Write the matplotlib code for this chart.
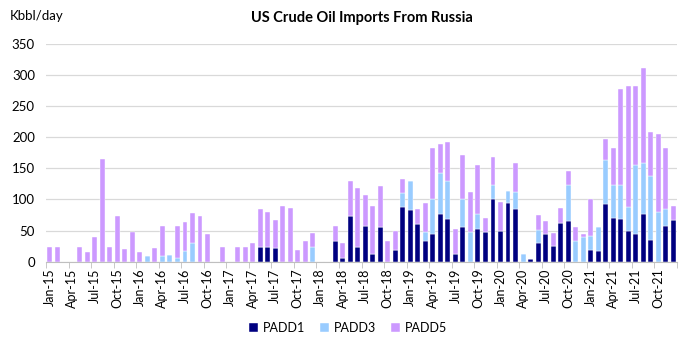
import numpy as np
import pandas as pd
import matplotlib
matplotlib.use("Agg")
import matplotlib.pyplot as plt

plt.rcParams['font.family'] = ['Lato', 'DejaVu Sans']

# monthly data, Jan-15 .. Dec-21 (Kbbl/day)
months = pd.date_range("2015-01-01", "2021-12-01", freq="MS")
month_labels = [d.strftime("%b-%y") for d in months]

padd1 = [0, 0, 0, 0, 0, 0, 0, 0, 0, 0, 0, 0,
         0, 0, 0, 0, 0, 0, 0, 0, 0, 0, 0, 0,
         0, 0, 0, 0, 23, 24, 22, 0, 0, 0, 0, 0,
         0, 0, 34, 6, 74, 24, 57, 13, 55, 0, 18, 88,
         83, 61, 33, 45, 77, 69, 12, 55, 0, 53, 47, 101,
         50, 95, 84, 0, 4, 30, 44, 25, 62, 65, 0, 0,
         18, 17, 93, 71, 68, 49, 45, 77, 35, 0, 57, 67]
padd3 = [0, 0, 0, 0, 0, 0, 0, 0, 0, 0, 0, 0,
         0, 9, 0, 9, 11, 6, 17, 30, 0, 0, 0, 0,
         0, 0, 0, 0, 0, 0, 0, 0, 0, 0, 0, 23,
         0, 0, 0, 0, 0, 0, 0, 0, 0, 0, 0, 23,
         46, 0, 15, 55, 66, 60, 0, 46, 48, 23, 0, 23,
         0, 18, 28, 13, 0, 21, 0, 0, 0, 58, 33, 39,
         23, 38, 70, 53, 56, 39, 110, 81, 102, 80, 28, 0]
padd5 = [23, 24, 0, 0, 23, 16, 39, 165, 24, 73, 20, 47,
         16, 0, 22, 49, 0, 51, 47, 48, 73, 45, 0, 23,
         0, 24, 23, 30, 61, 56, 45, 89, 87, 18, 33, 23,
         0, 0, 23, 24, 56, 95, 50, 76, 67, 33, 31, 22,
         0, 24, 46, 82, 47, 63, 40, 71, 64, 79, 24, 44,
         46, 0, 46, 0, 0, 24, 22, 21, 24, 23, 23, 6,
         59, 0, 34, 58, 154, 194, 127, 153, 71, 125, 97, 23]

c1, c3, c5 = "#000080", "#99CCFF", "#CC99FF"

fig = plt.figure(figsize=(6.9, 3.45), dpi=100)
ax = fig.add_axes([0.0667, 0.2415, 0.9145, 0.631])

x = np.arange(len(months))
p1 = np.array(padd1)
p3 = np.array(padd3)
p5 = np.array(padd5)
w = 0.66
ax.bar(x, p1, w, color=c1, label="PADD1", edgecolor="white", linewidth=0.3)
ax.bar(x, p3, w, bottom=p1, color=c3, label="PADD3", edgecolor="white", linewidth=0.3)
ax.bar(x, p5, w, bottom=p1 + p3, color=c5, label="PADD5", edgecolor="white", linewidth=0.3)

ax.set_xlim(-0.5, len(months) - 0.5)
ax.set_ylim(0, 350)
ax.set_yticks(range(0, 351, 50))
ax.tick_params(axis="y", length=0, labelsize=9.5, pad=8, colors="#000000")
ax.yaxis.grid(True, color="#d9d9d9", linewidth=0.9)
ax.set_axisbelow(True)

# labels centred on months, tick marks on the month boundaries
ax.set_xticks(x[::3])
ax.set_xticklabels(month_labels[::3], rotation=90, fontsize=9)
ax.set_xticks(np.arange(-0.5, len(months), 3), minor=True)
ax.tick_params(axis="x", which="major", length=0, pad=5)
ax.tick_params(axis="x", which="minor", length=4, color="#bfbfbf")

for s in ["top", "right", "left"]:
    ax.spines[s].set_visible(False)
ax.spines["bottom"].set_color("#bfbfbf")

ax.set_title("US Crude Oil Imports From Russia", fontsize=10.5, fontweight="bold", pad=16)
fig.text(0.014, 0.955, "Kbbl/day", fontsize=9.5, va="center")

fig.legend(loc="lower center", bbox_to_anchor=(0.505, 0.0), ncol=3, frameon=False,
           fontsize=9, handlelength=0.7, handleheight=0.7, handletextpad=0.4, columnspacing=1.2)

fig.savefig("out.png", dpi=100)
